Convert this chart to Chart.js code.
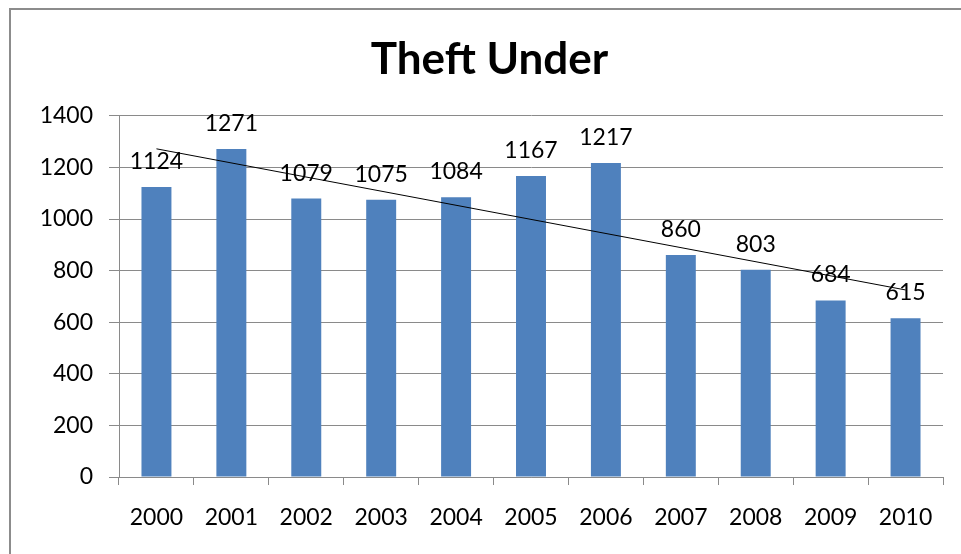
<!DOCTYPE html>
<html>
<head>
<meta charset="utf-8">
<title>Theft Under</title>
<script src="https://cdn.jsdelivr.net/npm/chart.js@4.4.1/dist/chart.umd.min.js"></script>
<style>
  html, body { margin: 0; padding: 0; background: #fff; overflow: hidden; }
  #wrap { position: relative; width: 961px; height: 554px; }
  #frame {
    position: absolute; left: 9px; top: 8px; width: 980px; height: 580px;
    border: 2px solid #8c8c8c; box-sizing: border-box; pointer-events: none;
  }
  canvas { position: absolute; left: 0; top: 0; }
</style>
</head>
<body>
<div id="wrap">
  <canvas id="chart" width="961" height="554"></canvas>
  <div id="frame"></div>
</div>
<script>
const years = ['2000', '2001', '2002', '2003', '2004', '2005', '2006', '2007', '2008', '2009', '2010'];
const thefts = [1124, 1271, 1079, 1075, 1084, 1167, 1217, 860, 803, 684, 615];
// linear trend, drawn between the first and last year
const trendEnds = [1272, 725];
const yTicks = [0, 200, 400, 600, 800, 1000, 1200, 1400];

const trend = years.map((_, i) => i === 0 ? trendEnds[0] : (i === years.length - 1 ? trendEnds[1] : null));

const FONT = 'Lato, "Open Sans", sans-serif';
const GRID = '#8a8a8a';

// value labels above each bar
const barLabels = {
    id: 'barLabels',
    afterDatasetsDraw(chart) {
        const ctx = chart.ctx;
        const meta = chart.getDatasetMeta(1);
        ctx.save();
        ctx.font = '23px ' + FONT;
        ctx.fillStyle = '#000';
        ctx.textAlign = 'center';
        ctx.textBaseline = 'bottom';
        meta.data.forEach((bar, i) => {
            ctx.fillText(String(thefts[i]), bar.x, bar.y - 14);
        });
        ctx.restore();
    }
};

new Chart(document.getElementById('chart'), {
    type: 'bar',
    data: {
        labels: years,
        datasets: [{
            type: 'line',
            data: trend,
            borderColor: '#000',
            borderWidth: 1,
            pointRadius: 0,
            spanGaps: true,
            fill: false,
            order: 0
        }, {
            data: thefts,
            backgroundColor: '#4f81bd',
            barPercentage: 0.4,
            categoryPercentage: 1,
            order: 1
        }]
    },
    options: {
        responsive: false,
        animation: false,
        layout: { padding: { left: 36, right: 18, top: 0, bottom: 0 } },
        plugins: {
            legend: { display: false },
            tooltip: { enabled: false },
            title: {
                display: true,
                text: 'Theft Under',
                color: '#000',
                font: { family: FONT, size: 44, weight: 'bold' },
                padding: { top: 33, bottom: 30 }
            }
        },
        scales: {
            x: {
                grid: { offset: true, drawOnChartArea: false, color: GRID, tickLength: 8 },
                border: { color: GRID },
                ticks: { color: '#000', font: { family: FONT, size: 23 }, padding: 19, maxRotation: 0 },
                afterFit(scale) { scale.height = 77; }
            },
            y: {
                min: 0,
                max: 1400,
                afterBuildTicks(scale) { scale.ticks = yTicks.map(v => ({ value: v })); },
                grid: { color: GRID, tickLength: 10 },
                border: { color: GRID },
                ticks: {
                    color: '#000',
                    font: { family: FONT, size: 23 },
                    padding: 16,
                    callback: v => String(v)
                },
                afterFit(scale) { scale.width = 83; }
            }
        }
    },
    plugins: [barLabels]
});
</script>
</body>
</html>
